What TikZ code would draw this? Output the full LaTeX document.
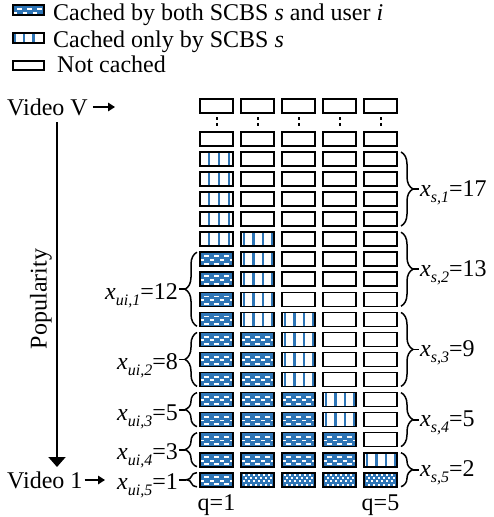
\documentclass[tikz,border=0pt]{standalone}
\usepackage{fontspec}
\setmainfont{Liberation Serif}
\usetikzlibrary{decorations.pathreplacing,arrows.meta}
\definecolor{cblue}{RGB}{46,117,182}
\newcommand\lsub[1]{\raisebox{-0.27em}{\fontsize{16}{18}\selectfont\itshape #1}}
\tikzset{
  cell/.style={draw=black,line width=1.6pt,minimum width=33.5pt,minimum height=14pt,inner sep=0pt,outer sep=0pt},
  cnone/.style={fill=white},
  cboth/.style={fill=cblue,path picture={
      \foreach \yy/\xo in {3.2/4.3,6.9/-0.2,10.6/4.3}{
        \foreach \xx in {0,10,20,30}{
          \fill[white] ([xshift=\xo pt+\xx pt,yshift=-\yy pt]path picture bounding box.north west) rectangle ++(4.6pt,-1.9pt);}}
    }},
  conly/.style={fill=white,path picture={
      \foreach \xx in {#1}{\fill[cblue] ([xshift=\xx pt,yshift=1pt]path picture bounding box.north west) rectangle ++(2.2pt,-18pt);}
    }},
  conly/.default={2.2,11.7,21.2,30.7},
  cdense/.style={fill=cblue,path picture={
      \foreach \yy/\xo in {1.0/1.9,4.3/4.4,7.6/1.9,10.9/4.4}{
        \foreach \xx in {0,5,10,15,20,25,30}{
          \fill[white] ([xshift=\xo pt+\xx pt,yshift=-\yy pt]path picture bounding box.north west) rectangle ++(2pt,-2pt);}}
    }},
  legbox/.style={minimum width=31.5pt,minimum height=9.5pt},
  txt/.style={inner sep=1pt},
  bracer/.style={decorate,decoration={brace,amplitude=12pt},line width=1.5pt},
  bracel/.style={decorate,decoration={brace,amplitude=12pt},line width=1.5pt},
  tick/.style={line width=1.8pt},
  txtarrow/.style={line width=1.6pt,-{Triangle[length=7pt,width=8.5pt]}},
}
\begin{document}
\begin{tikzpicture}[x=1pt,y=-1pt,font=\fontsize{24}{28}\selectfont]
\useasboundingbox (0,0) rectangle (494,517);

% legend
\node[cell,cboth,legbox] (lg1) at (28.5,10) {};
\node[cell,conly={0.6,9.8,19.6,29.8},legbox] (lg2) at (28.5,38) {};
\node[cell,cnone,legbox] (lg3) at (28.5,65.5) {};
\node[txt,anchor=base west] (lt1) at (52,20) {Cached by both SCBS \textit{s} and user \textit{i}};
\node[txt,anchor=base west] (lt2) at (52,47) {Cached only by SCBS \textit{s}};
\node[txt,anchor=base west] (lt3) at (56,72) {Not cached};

% grid
\foreach \c/\u/\s in {1/12/17,2/8/13,3/5/9,4/3/5,5/1/2}{
  \pgfmathsetmacro\cx{216.5+41*(\c-1)}
  \node[cell,cnone] (top\c) at (\cx,106) {};
  \fill (\cx-1,117) rectangle (\cx+1,120);
  \fill (\cx-1,122.5) rectangle (\cx+1,125.5);
  \foreach \k in {1,...,18}{
    \pgfmathsetmacro\cy{479.75-20.05*(\k-1)}
    \ifnum\k>\s\relax \def\st{cnone}%
    \else\ifnum\k>\u\relax
       \ifnum\c=1 \def\st{conly={7.9,17.9,27.9}}\else\def\st{conly}\fi
    \else
       \ifnum\k=1 \ifnum\c>1 \def\st{cdense}\else\def\st{cboth}\fi\else\def\st{cboth}\fi
    \fi\fi
    \tikzset{cur/.style/.expanded={\st}}
    \node[cell,cur] (c\c r\k) at (\cx,\cy) {};
  }
}

% right braces
\draw[bracer] (401,152) -- (401,226);
\coordinate (rt1) at (413,189);
\node[txt,anchor=base west] (xs1) at (419,196) {\textit{x}\lsub{s,1}=17};
\draw[tick] (rt1) -- (rt1 -| xs1.west);

\draw[bracer] (401,232.2) -- (401,306.2);
\coordinate (rt2) at (413,269.2);
\node[txt,anchor=base west] (xs2) at (419,276) {\textit{x}\lsub{s,2}=13};
\draw[tick] (rt2) -- (rt2 -| xs2.west);

\draw[bracer] (401,312.4) -- (401,386.4);
\coordinate (rt3) at (413,349.4);
\node[txt,anchor=base west] (xs3) at (419,356.5) {\textit{x}\lsub{s,3}=9};
\draw[tick] (rt3) -- (rt3 -| xs3.west);

\draw[bracer] (401,392.6) -- (401,446.6);
\coordinate (rt4) at (413,419.6);
\node[txt,anchor=base west] (xs4) at (419,426.5) {\textit{x}\lsub{s,4}=5};
\draw[tick] (rt4) -- (rt4 -| xs4.west);

\draw[bracer] (401,452.7) -- (401,486.7);
\coordinate (rt5) at (413,469.7);
\node[txt,anchor=base west] (xs5) at (419,476.5) {\textit{x}\lsub{s,5}=2};
\draw[tick] (rt5) -- (rt5 -| xs5.west);

% left braces
\draw[bracel] (197,326.3) -- (197,252.2);
\coordinate (lt1c) at (185,289.3);
\node[txt,anchor=base east] (xu1) at (179,299.5) {\textit{x}\lsub{ui,1}=12};
\draw[tick] (lt1c) -- (lt1c -| xu1.east);

\draw[bracel] (197,386.4) -- (197,332.4);
\coordinate (lt2c) at (185,359.4);
\node[txt,anchor=base east] (xu2) at (179,369.5) {\textit{x}\lsub{ui,2}=8};
\draw[tick] (lt2c) -- (lt2c -| xu2.east);

\draw[bracel] (197,426.6) -- (197,392.6);
\coordinate (lt3c) at (185,409.6);
\node[txt,anchor=base east] (xu3) at (179,420) {\textit{x}\lsub{ui,3}=5};
\draw[tick] (lt3c) -- (lt3c -| xu3.east);

\draw[bracel] (197,466.7) -- (197,432.7);
\coordinate (lt4c) at (185,449.7);
\node[txt,anchor=base east] (xu4) at (179,459.5) {\textit{x}\lsub{ui,4}=3};
\draw[tick] (lt4c) -- (lt4c -| xu4.east);

\draw[bracel,decoration={brace,amplitude=11pt}] (197,486.8) -- (197,472.7);
\coordinate (lt5c) at (186,479.75);
\node[txt,anchor=base east] (xu5) at (179,489.5) {\textit{x}\lsub{ui,5}=1};
\draw[tick] (lt5c) -- (lt5c -| xu5.east);

% left side texts and arrows
\node[txt,anchor=base west] (vV) at (6,115) {Video V};
\coordinate (vVend) at (115,107);
\draw[txtarrow] ([xshift=4pt]vV.east |- vVend) -- (vVend);

\node[txt,anchor=base west] (v1) at (6,488) {Video 1};
\coordinate (v1end) at (105,480);
\draw[txtarrow] ([xshift=1pt]v1.east |- v1end) -- (v1end);

\coordinate (popTop) at (57,122);
\coordinate (popBot) at (57,467);
\draw[line width=2pt,-{Triangle[length=10pt,width=17pt]}] (popTop) -- (popBot);
\node[txt,rotate=90,anchor=base] (pop) at (46.5,299) {Popularity};

% q labels
\node[txt,anchor=base] (q1) at (216.5,510.5) {q=1};
\node[txt,anchor=base] (q5) at (380.5,510.5) {q=5};
\end{tikzpicture}
\end{document}
